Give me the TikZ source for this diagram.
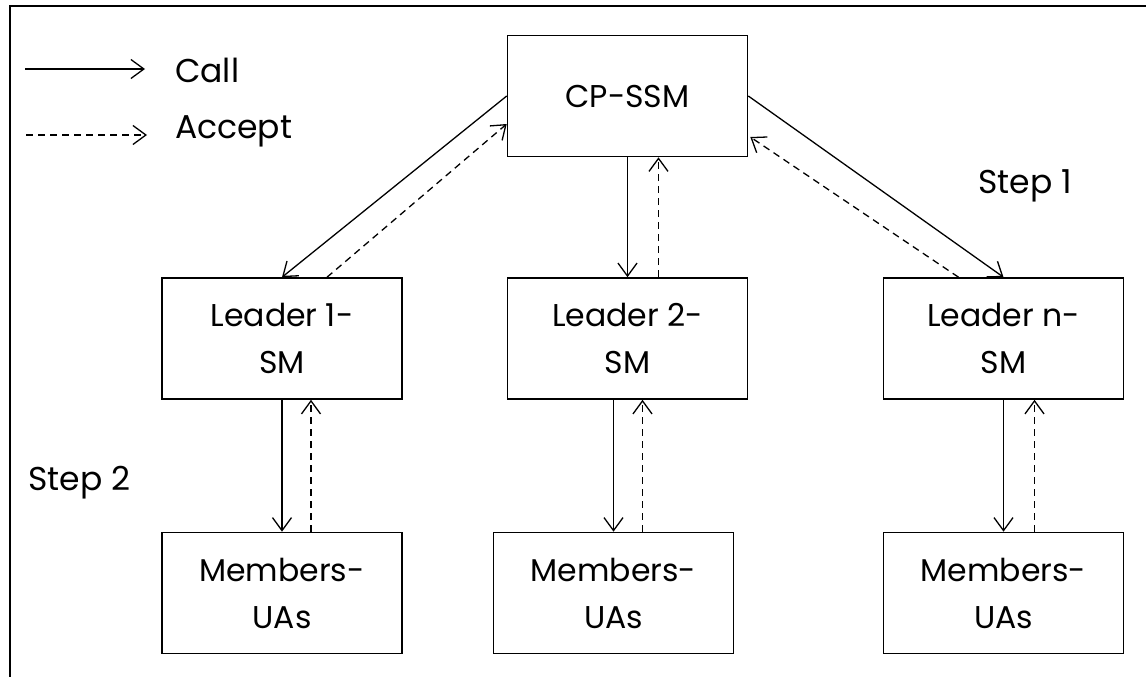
\documentclass[tikz,border=0pt]{standalone}
\usepackage{fontspec}
\setmainfont{Poppins}
\usetikzlibrary{arrows.meta,calc}
\begin{document}
\begin{tikzpicture}[x=1pt,y=-1pt,
  box/.style={draw,line width=1.6pt,minimum width=240pt,minimum height=121pt,inner sep=0pt,align=center,
    font=\fontsize{31.5}{47}\selectfont},
  lbl/.style={inner sep=0pt,anchor=base west,font=\fontsize{33}{38}\selectfont},
  call/.style={line width=1.3pt,-{Straight Barb[length=13pt,width=19pt,line width=1.3pt]}},
  accept/.style={call,dash pattern=on 7pt off 5pt}]
\useasboundingbox (0,0) rectangle (1146,677);
% frame
\draw[line width=1.6pt] (1146,6) -- (10,6) -- (10,677);
% nodes
\node[box] (cp) at (627.5,96) {CP-SSM};
\node[box] (l1) at (282,338.5) {Leader 1-\\SM};
\node[box] (l2) at (627.5,338.5) {Leader 2-\\SM};
\node[box] (ln) at (1003.5,338.5) {Leader n-\\SM};
\node[box] (m1) at (282,593) {Members-\\UAs};
\node[box] (m2) at (613.5,593) {Members-\\UAs};
\node[box] (mn) at (1003.5,593) {Members-\\UAs};
% labels
\node[lbl] (call) at (175,82) {Call};
\node[lbl] (acc) at (175,138) {Accept};
\node[lbl] (s1) at (978,193) {Step 1};
\node[lbl] (s2) at (28,490) {Step 2};
% legend
\coordinate (c1) at (25,69); \coordinate (c2) at (145,69);
\coordinate (a1) at (26,135); \coordinate (a2) at (147,135);
\draw[call] (c1) -- (c2);
\draw[accept] (a1) -- (a2);
% step 1
\draw[call] (cp.west) -- (l1.north);
\draw[accept] ($(l1.north)+(45,0)$) -- ($(cp.west)+(0,28)$);
\draw[call] (cp.south) -- (l2.north);
\draw[accept] ($(l2.north)+(31,0)$) -- ($(cp.south)+(31,0)$);
\draw[call] (cp.east) -- (ln.north);
\draw[accept] ($(ln.north)+(-45,0)$) -- ($(cp.east)+(2,41)$);
% step 2
\draw[call] (l1.south) -- (m1.north);
\draw[accept] ($(m1.north)+(29,0)$) -- ($(l1.south)+(29,0)$);
\draw[call] (m2.north |- l2.south) -- (m2.north);
\draw[accept] ($(m2.north)+(29,0)$) -- ($(m2.north |- l2.south)+(29,0)$);
\draw[call] (ln.south) -- (mn.north);
\draw[accept] ($(mn.north)+(31,0)$) -- ($(ln.south)+(31,0)$);
\end{tikzpicture}
\end{document}
